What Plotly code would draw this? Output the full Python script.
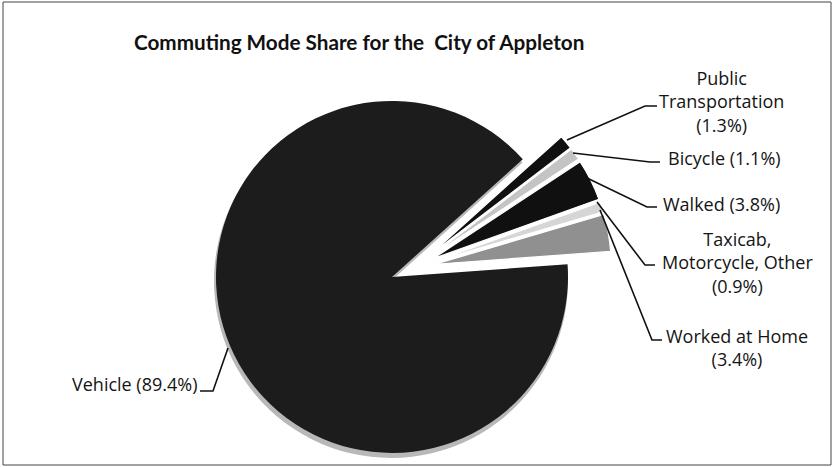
import plotly.graph_objects as go

# ---- data ----
categories = ["Public Transportation", "Bicycle", "Walked",
              "Taxicab, Motorcycle, Other", "Worked at Home", "Vehicle"]
shares = [1.3, 1.1, 3.8, 0.9, 3.4, 89.4]
label_texts = ["Public<br>Transportation<br>(1.3%)", "Bicycle (1.1%)", "Walked (3.8%)",
               "Taxicab,<br>Motorcycle, Other<br>(0.9%)", "Worked at Home<br>(3.4%)",
               "Vehicle (89.4%)"]
title_text = "Commuting Mode Share for the  City of Appleton"

W, H = 833, 467
TITLE_FONT = "Lato"
LABEL_FONT = "Open Sans"

slice_colors = ["#101010", "#c4c4c4", "#101010", "#d6d6d6", "#909090", "#1c1c1c"]
TR = "rgba(0,0,0,0)"
n = len(categories)
is_vehicle = [c == "Vehicle" for c in categories]


def dom(cx, cy, r):
    # pixel centre (from top-left) and half-size -> paper domain
    return dict(x=[(cx - r) / W, (cx + r) / W],
                y=[(H - cy - r) / H, (H - cy + r) / H])


common = dict(labels=categories, values=shares, sort=False, direction="clockwise",
              rotation=48, textinfo="none", hoverinfo="skip", showlegend=False)

fig = go.Figure()

# shadow of the main slice
fig.add_trace(go.Pie(**common, domain=dom(391, 281, 177),
                     marker=dict(colors=["#b8b8b8" if v else TR for v in is_vehicle],
                                 line=dict(width=0))))
# main (unexploded) slice
fig.add_trace(go.Pie(**common, domain=dom(392, 277, 176),
                     marker=dict(colors=[slice_colors[i] if is_vehicle[i] else TR for i in range(n)],
                                 line=dict(width=0))))
# exploded small slices
pull = 0.12
fig.add_trace(go.Pie(**common, domain=dom(414.3, 268, 176 * (1 + pull)),
                     pull=[0 if v else pull for v in is_vehicle],
                     marker=dict(colors=[TR if is_vehicle[i] else slice_colors[i] for i in range(n)],
                                 line=dict(color=["rgba(0,0,0,0)" if v else "white" for v in is_vehicle],
                                           width=[0 if v else 1.2 for v in is_vehicle]))))


def px(x, y):
    return x / W, 1 - y / H


# label annotations (pixel centres)
label_pos = [(721, 102), (724, 158), (721, 204), (737, 262), (737, 347), (134, 384)]
annotations = []
for t, (x, y) in zip(label_texts, label_pos):
    ax_, ay_ = px(x, y)
    annotations.append(dict(text=t, x=ax_, y=ay_, xref="paper", yref="paper",
                            xanchor="center", yanchor="middle", showarrow=False,
                            font=dict(family=LABEL_FONT, size=18, color="#141414")))
tx, ty = px(359, 42)
annotations.append(dict(text="<b>" + title_text + "</b>", x=tx, y=ty, xref="paper", yref="paper",
                        xanchor="center", yanchor="middle", showarrow=False,
                        font=dict(family=TITLE_FONT, size=20.7, color="#111111")))

# leader lines (pixel paths)
leaders = [
    [(567, 140), (645, 106), (657, 106)],
    [(573, 153), (650, 162), (660, 162)],
    [(587, 178), (647, 207), (657, 207)],
    [(597, 202), (645, 265), (655, 265)],
    [(600, 210), (652, 340), (662, 340)],
    [(228, 348), (213, 391), (200, 391)],
]
shapes = []
for pts in leaders:
    path = ""
    for k, (x, y) in enumerate(pts):
        X, Y = px(x, y)
        path += ("M" if k == 0 else " L") + f"{X:.5f},{Y:.5f}"
    shapes.append(dict(type="path", path=path, xref="paper", yref="paper",
                       line=dict(color="#111111", width=1.6)))
# chart frame
x0, y0 = px(3, 2)
x1, y1 = px(831, 465)
shapes.append(dict(type="rect", x0=x0, y0=y1, x1=x1, y1=y0, xref="paper", yref="paper",
                   line=dict(color="#444444", width=1)))

fig.update_layout(width=W, height=H, margin=dict(l=0, r=0, t=0, b=0),
                  paper_bgcolor="white", plot_bgcolor="white",
                  annotations=annotations, shapes=shapes)

fig.write_html("out.html", config={"displayModeBar": False},
               post_script="document.body.style.margin='0';")
